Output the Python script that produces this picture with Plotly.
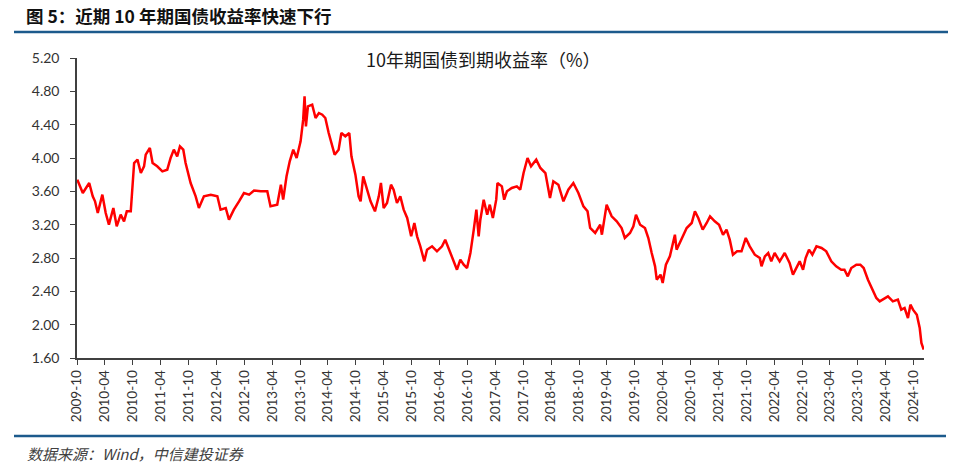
import plotly.graph_objects as go

# ---- data ----
DATES = [
    "2009-10-03", "2009-10-20", "2009-11-08", "2009-11-29", "2009-12-20", "2010-01-12", "2010-01-27",
    "2010-02-14", "2010-03-16", "2010-04-07", "2010-04-28", "2010-05-27", "2010-06-18", "2010-07-14",
    "2010-08-05", "2010-08-23", "2010-09-18", "2010-10-10", "2010-11-01", "2010-11-23", "2010-12-14",
    "2010-12-25", "2011-01-21", "2011-02-08", "2011-03-10", "2011-04-13", "2011-05-15", "2011-06-06",
    "2011-06-27", "2011-07-19", "2011-08-06", "2011-08-28", "2011-09-12", "2011-10-15", "2011-11-17",
    "2011-12-08", "2012-01-10", "2012-02-24", "2012-04-07", "2012-04-28", "2012-06-01", "2012-06-22",
    "2012-07-24", "2012-08-27", "2012-09-28", "2012-11-01", "2012-12-03", "2013-01-16", "2013-02-28",
    "2013-03-21", "2013-05-04", "2013-05-28", "2013-06-12", "2013-07-04", "2013-07-25", "2013-08-17",
    "2013-09-08", "2013-10-04", "2013-10-21", "2013-10-30", "2013-11-08", "2013-11-21", "2013-12-19",
    "2014-01-10", "2014-02-01", "2014-02-23", "2014-03-15", "2014-04-06", "2014-04-28", "2014-05-15",
    "2014-06-10", "2014-06-28", "2014-07-24", "2014-08-19", "2014-09-02", "2014-09-28", "2014-10-19",
    "2014-11-01", "2014-11-18", "2014-12-14", "2015-01-05", "2015-02-03", "2015-02-28", "2015-03-14",
    "2015-04-01", "2015-04-23", "2015-05-19", "2015-06-05", "2015-06-27", "2015-07-19", "2015-08-10",
    "2015-09-02", "2015-09-28", "2015-10-19", "2015-11-06", "2015-11-27", "2015-12-23", "2016-01-10",
    "2016-02-12", "2016-03-15", "2016-04-17", "2016-05-08", "2016-05-30", "2016-06-21", "2016-07-24",
    "2016-08-15", "2016-09-06", "2016-09-28", "2016-10-20", "2016-11-11", "2016-11-28", "2016-12-13",
    "2016-12-24", "2017-01-15", "2017-02-07", "2017-02-24", "2017-03-16", "2017-04-07", "2017-04-15",
    "2017-05-14", "2017-05-29", "2017-06-16", "2017-07-18", "2017-08-20", "2017-09-11", "2017-10-03",
    "2017-10-29", "2017-11-21", "2017-12-25", "2018-01-21", "2018-02-23", "2018-03-25", "2018-04-16",
    "2018-05-19", "2018-06-21", "2018-07-23", "2018-08-25", "2018-09-27", "2018-10-30", "2018-11-26",
    "2018-12-13", "2019-01-15", "2019-02-17", "2019-02-28", "2019-03-31", "2019-05-03", "2019-06-05",
    "2019-07-07", "2019-07-28", "2019-08-31", "2019-09-22", "2019-10-09", "2019-11-05", "2019-12-07",
    "2019-12-29", "2020-01-20", "2020-02-11", "2020-02-22", "2020-03-18", "2020-04-01", "2020-04-22",
    "2020-05-18", "2020-06-09", "2020-06-20", "2020-07-01", "2020-08-03", "2020-09-05", "2020-10-08",
    "2020-10-29", "2020-11-20", "2020-12-19", "2021-01-14", "2021-02-05", "2021-03-08", "2021-04-05",
    "2021-05-01", "2021-05-24", "2021-06-14", "2021-07-05", "2021-08-01", "2021-08-30", "2021-09-27",
    "2021-10-23", "2021-11-25", "2021-12-28", "2022-01-08", "2022-01-30", "2022-02-21", "2022-03-13",
    "2022-04-04", "2022-05-07", "2022-06-09", "2022-07-11", "2022-08-02", "2022-08-25", "2022-09-15",
    "2022-10-07", "2022-10-24", "2022-11-15", "2022-12-07", "2023-01-03", "2023-02-05", "2023-03-08",
    "2023-04-10", "2023-05-12", "2023-06-14", "2023-07-05", "2023-07-27", "2023-08-19", "2023-09-21",
    "2023-10-17", "2023-11-08", "2023-12-06", "2024-01-08", "2024-01-30", "2024-02-21", "2024-03-23",
    "2024-04-15", "2024-05-17", "2024-06-19", "2024-07-11", "2024-08-02", "2024-08-24", "2024-09-09",
    "2024-09-26", "2024-10-21", "2024-11-09", "2024-11-20", "2024-12-05",
]
YIELD_PCT = [
    3.74, 3.66, 3.58, 3.64, 3.70, 3.54, 3.48,
    3.34, 3.56, 3.34, 3.20, 3.40, 3.18, 3.32,
    3.24, 3.36, 3.36, 3.94, 3.98, 3.82, 3.90,
    4.04, 4.12, 3.94, 3.90, 3.84, 3.86, 4.00,
    4.10, 4.02, 4.14, 4.10, 3.94, 3.70, 3.54,
    3.40, 3.54, 3.56, 3.54, 3.38, 3.40, 3.26,
    3.38, 3.48, 3.58, 3.56, 3.61, 3.60, 3.60,
    3.42, 3.44, 3.68, 3.50, 3.78, 3.96, 4.10,
    4.00, 4.20, 4.46, 4.74, 4.38, 4.62, 4.64,
    4.48, 4.54, 4.52, 4.48, 4.30, 4.16, 4.04,
    4.10, 4.30, 4.26, 4.30, 4.02, 3.80, 3.54,
    3.48, 3.78, 3.62, 3.48, 3.36, 3.54, 3.70,
    3.40, 3.46, 3.68, 3.62, 3.46, 3.54, 3.38,
    3.28, 3.06, 3.22, 3.06, 2.94, 2.76, 2.90,
    2.94, 2.88, 2.94, 3.02, 2.92, 2.82, 2.66,
    2.78, 2.72, 2.68, 2.86, 3.14, 3.38, 3.06,
    3.26, 3.50, 3.32, 3.44, 3.28, 3.50, 3.70,
    3.66, 3.50, 3.60, 3.64, 3.66, 3.62, 3.82,
    4.00, 3.90, 3.98, 3.88, 3.82, 3.52, 3.72,
    3.68, 3.48, 3.62, 3.70, 3.58, 3.42, 3.36,
    3.16, 3.10, 3.20, 3.08, 3.44, 3.30, 3.24,
    3.16, 3.04, 3.10, 3.18, 3.32, 3.20, 3.16,
    3.04, 2.86, 2.70, 2.54, 2.60, 2.50, 2.72,
    2.82, 2.98, 3.08, 2.90, 3.04, 3.16, 3.22,
    3.36, 3.28, 3.14, 3.22, 3.30, 3.24, 3.20,
    3.08, 3.14, 3.02, 2.84, 2.88, 2.88, 3.04,
    2.94, 2.84, 2.80, 2.70, 2.82, 2.86, 2.76,
    2.86, 2.76, 2.86, 2.74, 2.60, 2.68, 2.76,
    2.66, 2.80, 2.90, 2.84, 2.94, 2.92, 2.88,
    2.76, 2.70, 2.66, 2.66, 2.58, 2.68, 2.72,
    2.72, 2.68, 2.54, 2.42, 2.32, 2.28, 2.32,
    2.34, 2.28, 2.30, 2.18, 2.20, 2.08, 2.24,
    2.18, 2.12, 1.96, 1.78, 1.70,
]

X_TICK_VALS = [f"{y}-{m:02d}-01" for y in range(2009, 2025) for m in (4, 10)][1:]
X_TICK_TEXT = [v[:7] for v in X_TICK_VALS]
Y_TICKS = [1.6, 2.0, 2.4, 2.8, 3.2, 3.6, 4.0, 4.4, 4.8, 5.2]

TITLE = "图 5：近期 10 年期国债收益率快速下行"
SUBTITLE = "10年期国债到期收益率（%）"
SOURCE = "<i>数据来源：Wind，中信建投证券</i>"

W, H = 960, 472
L, R, T, B = 77, 924, 58, 358  # plot area in pixels


def px(x):
    return (x - L) / (R - L)


def py(y):
    return (B - y) / (B - T)


fig = go.Figure()
fig.add_trace(go.Scatter(
    x=DATES, y=YIELD_PCT, mode="lines",
    line=dict(color="#FF0000", width=2.5),
    showlegend=False, hoverinfo="x+y",
))

axis_color = "#404040"
tick_font = dict(family="Lato, 'Liberation Sans', sans-serif", size=14, color="#333333")

fig.update_layout(
    width=W, height=H, autosize=False,
    margin=dict(l=L, r=W - R, t=T, b=H - B),
    paper_bgcolor="white", plot_bgcolor="white",
    xaxis=dict(
        type="date", range=["2009-10-01", "2024-12-07"],
        tickmode="array", tickvals=X_TICK_VALS, ticktext=X_TICK_TEXT,
        tickangle=-90, tickfont=dict(family=tick_font["family"], size=13.5, color="#333333"),
        showgrid=False, zeroline=False,
        showline=True, linecolor=axis_color, linewidth=1.5,
        ticks="outside", ticklen=5, tickcolor=axis_color, tickwidth=1.2,
    ),
    yaxis=dict(
        range=[1.6, 5.2], tickmode="array", tickvals=Y_TICKS,
        tickformat=".2f", tickfont=tick_font,
        showgrid=False, zeroline=False,
        showline=True, linecolor=axis_color, linewidth=1.5,
        ticks="outside", ticklen=5, tickcolor=axis_color, tickwidth=1.2,
        ticklabelstandoff=8,
    ),
    shapes=[
        dict(type="line", xref="paper", yref="paper", x0=px(14), x1=px(948), y0=py(32), y1=py(32),
             line=dict(color="#1C5A8C", width=2.5)),
        dict(type="line", xref="paper", yref="paper", x0=px(14), x1=px(946), y0=py(436), y1=py(436),
             line=dict(color="#1C5A8C", width=2.5)),
    ],
    annotations=[
        dict(text=TITLE, xref="paper", yref="paper", x=px(24), y=py(15), xanchor="left", yanchor="middle",
             showarrow=False, font=dict(family="'Noto Sans CJK SC', sans-serif", size=17.5, color="#111111", weight="bold")),
        dict(text=SUBTITLE, xref="paper", yref="paper", x=px(483), y=py(59), xanchor="center", yanchor="middle",
             showarrow=False, font=dict(family="'Noto Sans CJK SC', sans-serif", size=18, color="#1a1a1a")),
        dict(text=SOURCE, xref="paper", yref="paper", x=px(25), y=py(453), xanchor="left", yanchor="middle",
             showarrow=False, font=dict(family="'Noto Sans CJK SC', sans-serif", size=15, color="#404040")),
    ],
)

fig.write_html("out.html", config={"displayModeBar": False},
               post_script="document.body.style.margin='0';")
